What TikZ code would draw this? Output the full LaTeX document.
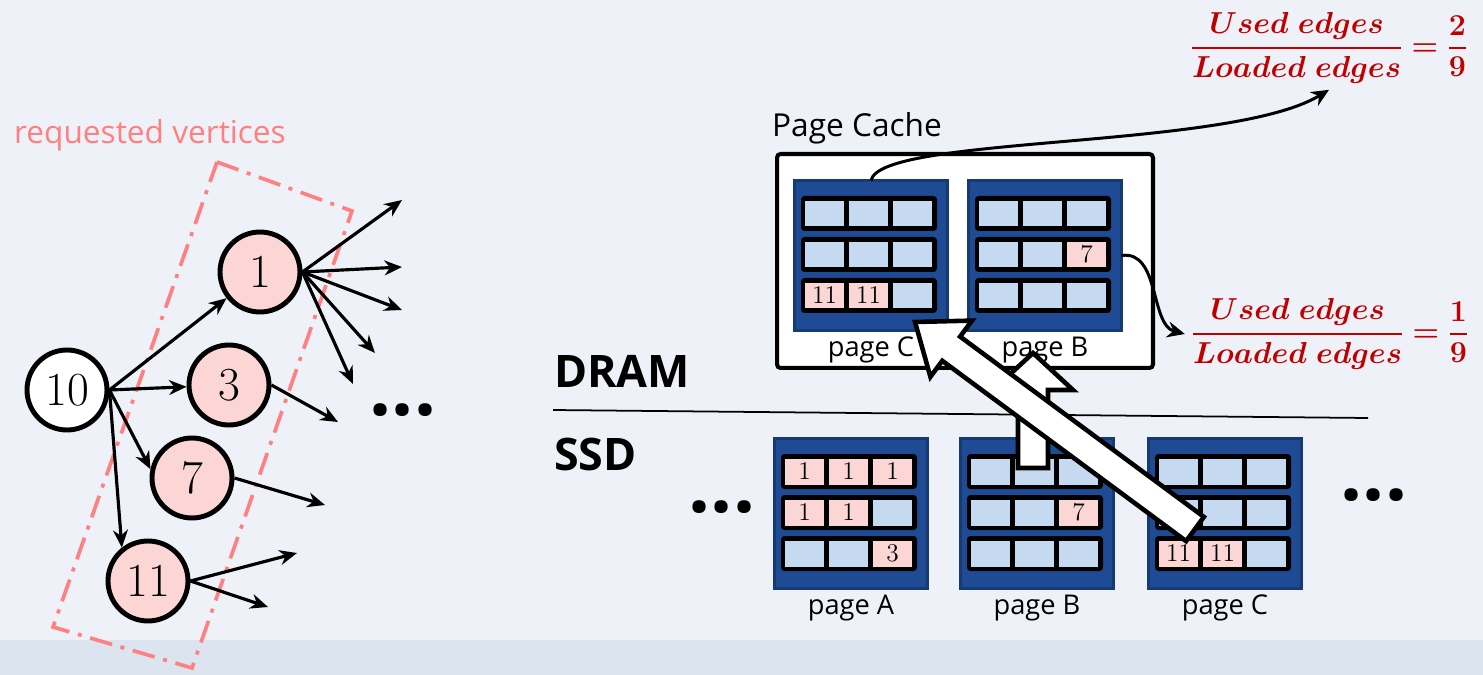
\documentclass[tikz,border=0pt]{standalone}
\usepackage{fontspec}
\usepackage{amsmath}
\usepackage{bm}
\usetikzlibrary{arrows.meta}

\newfontfamily\opensans{Open Sans}

\definecolor{fondo}{HTML}{EEF1F7}
\definecolor{banda}{HTML}{DCE4F0}
\definecolor{rojoclaro}{HTML}{FF8080}
\definecolor{rosa}{HTML}{FCD5D5}
\definecolor{celeste}{HTML}{C5D9F1}
\definecolor{azul}{HTML}{1E4B93}
\definecolor{azuloscuro}{HTML}{163B74}
\definecolor{granate}{HTML}{C00000}

% Bloque de pagina: x, y (esquina superior izquierda), nombre, etiqueta, celdas
\newcommand{\pagina}[5]{%
  \node[bloque] (#3) at ({#1+78},{#2+76.5}) {};
  \foreach \fil in {0,1,2}
    \fill[black, rounded corners=2pt] ({#1+8},{#2+17+41*\fil}) rectangle ++(136,35);
  \foreach \colr/\txt [count=\k from 0] in {#5} {
    \pgfmathtruncatemacro{\nfila}{div(\k,3)}
    \pgfmathtruncatemacro{\ncol}{mod(\k,3)}
    \node[celda, fill=\colr] (#3-\k) at ({#1+31.5+44*\ncol},{#2+34.5+41*\nfila}) {\txt};
  }
  \node[etiqueta] (#3-l) at ({#1+78},{#2+171}) {#4};
}

% Fraccion de aristas usadas
\newcommand{\razon}[1]{$\displaystyle\genfrac{}{}{1.4pt}{0}{\bm{Used\ edges}}{\bm{Loaded\ edges}}\bm{=}\genfrac{}{}{1.4pt}{0}{\bm{#1}}{\bm{9}}$}

\begin{document}
\begin{tikzpicture}[x=0.02cm, y=-0.02cm, >=Stealth,
    vert/.style={circle, draw, line width=2.8pt, fill=rosa, minimum size=1.6cm,
      inner sep=0pt, font=\fontsize{27}{30}\selectfont},
    flecha/.style={line width=1.8pt, -{Stealth[length=10pt, width=8.5pt]}},
    conector/.style={line width=1.7pt, -{Stealth[length=10pt, width=9pt]}},
    bloque/.style={rectangle, draw=azuloscuro, fill=azul, line width=1.7pt,
      minimum width=3.06cm, minimum height=3.0cm, inner sep=0pt, outer sep=0pt},
    celda/.style={rectangle, minimum width=0.78cm, minimum height=0.52cm,
      inner sep=0pt, font=\fontsize{14.5}{16}\selectfont},
    etiqueta/.style={font=\opensans\fontsize{15.5}{18}\selectfont},
    titulo/.style={font=\opensans\bfseries\fontsize{25.5}{30}\selectfont},
    puntos/.style={font=\opensans\bfseries\fontsize{44}{48}\selectfont},
    fraccion/.style={text=granate, font=\fontsize{17.5}{20}\selectfont},
    gruesa/.style={draw, fill=white, line width=2.6pt, line join=miter}]

  % Fondo
  \useasboundingbox (0,0) rectangle (1483,675);
  \fill[fondo] (0,0) rectangle (1483,675);
  \fill[banda] (0,640) rectangle (1483,675);

  % Vertices solicitados
  \node[text=rojoclaro, font=\opensans\fontsize{18}{21}\selectfont] (req) at (150,135) {requested vertices};
  \draw[rojoclaro, line width=2.1pt, dash pattern=on 13pt off 5pt on 2.3pt off 5pt]
    (217,162) -- (352,211) -- (192,668) -- (53,627) -- cycle;

  % Grafo
  \node[vert, fill=white] (n10) at (67,390) {10};
  \node[vert] (n1) at (260,272) {1};
  \node[vert] (n3) at (229,385) {3};
  \node[vert] (n7) at (192,478) {7};
  \node[vert] (n11) at (148,581) {11};

  \draw[flecha] (n10.east) -- (n1);
  \draw[flecha] (n10.east) -- (n3);
  \draw[flecha] (n10.east) -- (n7.168);
  \draw[flecha] (n10.east) -- (n11.128);

  % Aristas salientes
  \coordinate (a1) at (402,200);
  \coordinate (a2) at (402,267);
  \coordinate (a3) at (402,310);
  \coordinate (a4) at (375,353);
  \coordinate (a5) at (353,384);
  \coordinate (b1) at (338,422);
  \coordinate (c1) at (325,505);
  \coordinate (d1) at (297,553);
  \coordinate (d2) at (268,607);
  \foreach \p in {a1,a2,a3,a4,a5}
    \draw[flecha] (n1.east) -- (\p);
  \draw[flecha] (n3.east) -- (b1);
  \draw[flecha] (n7.east) -- (c1);
  \draw[flecha] (n11.east) -- (d1);
  \draw[flecha] (n11.east) -- (d2);
  \node[puntos] (dots1) at (403,410) {...};

  % DRAM / SSD
  \node[titulo, anchor=west] (dram) at (548,371) {DRAM};
  \node[titulo, anchor=west] (ssd) at (548,454) {SSD};
  \coordinate (lin1) at (553,410);
  \coordinate (lin2) at (1368,418);
  \draw[line width=1pt] (lin1) -- (lin2);

  % Page cache
  \node[font=\opensans\fontsize{18}{21}\selectfont] (pclabel) at (857,128) {Page Cache};
  \node[draw, fill=white, line width=2.3pt, rounded corners=2pt,
    minimum width=7.52cm, minimum height=4.28cm] (cache) at (965,261) {};
  \pagina{793}{179}{cC}{page C}{celeste/{},celeste/{},celeste/{},celeste/{},celeste/{},celeste/{},rosa/11,rosa/11,celeste/{}}
  \pagina{967}{179}{cB}{page B}{celeste/{},celeste/{},celeste/{},celeste/{},celeste/{},rosa/7,celeste/{},celeste/{},celeste/{}}

  % Paginas en SSD
  \pagina{773}{437}{sA}{page A}{rosa/1,rosa/1,rosa/1,rosa/1,rosa/1,celeste/{},celeste/{},celeste/{},rosa/3}
  \pagina{959}{437}{sB}{page B}{celeste/{},celeste/{},celeste/{},celeste/{},celeste/{},rosa/7,celeste/{},celeste/{},celeste/{}}
  \pagina{1147}{437}{sC}{page C}{celeste/{},celeste/{},celeste/{},celeste/{},celeste/{},celeste/{},rosa/11,rosa/11,celeste/{}}
  \node[puntos] (dots2) at (722,507) {...};
  \node[puntos] (dots3) at (1374,495) {...};

  % Flechas de carga
  \draw[gruesa] (1033,353) -- (1073,390) -- (1048,390) -- (1048,468)
    -- (1018,468) -- (1018,390) -- (993,390) -- cycle;
  \draw[gruesa] (915,322) -- (972,320.6) -- (960.1,336.6) -- (1203.9,516.9)
    -- (1186.1,541.1) -- (942.3,360.8) -- (930.4,376.8) -- cycle;

  % Proporciones
  \node[fraccion] (f1) at (1329,48) {\razon{2}};
  \node[fraccion] (f2) at (1330,334) {\razon{1}};
  \draw[conector] (cC.north) .. controls (880,135) and (1230,150) .. (f1.south);
  \draw[conector] (cB.east) .. controls (1160,250) and (1150,325) .. (f2.west);
\end{tikzpicture}
\end{document}
